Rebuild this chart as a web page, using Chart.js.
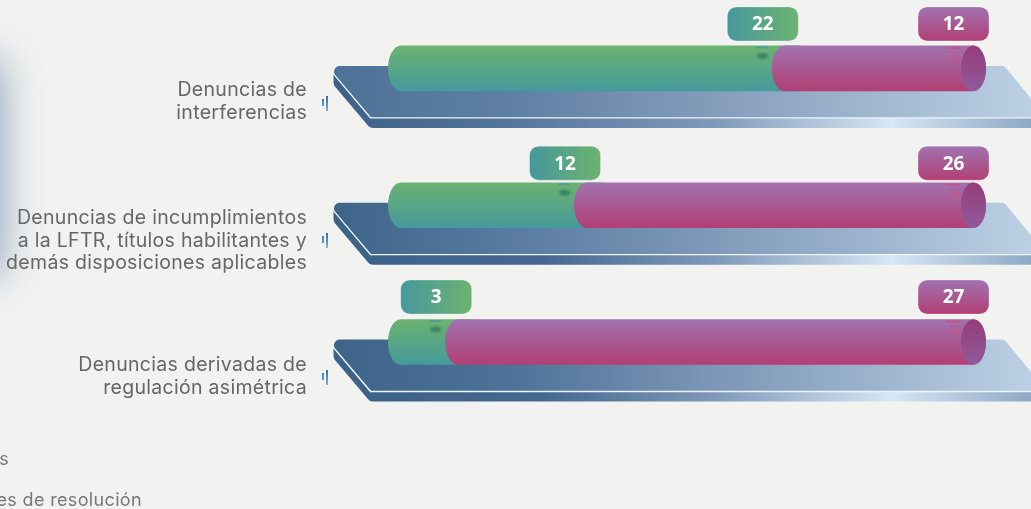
<!DOCTYPE html>
<html>
<head>
<meta charset="utf-8">
<script src="https://cdn.jsdelivr.net/npm/chart.js@4"></script>
<style>
    html, body { margin: 0; padding: 0; background: #f2f2f0; overflow: hidden; }
    #wrap { position: relative; width: 1031px; height: 509px; }
    .cut { position: absolute; font: 18px Inter, sans-serif; letter-spacing: 0.35px; color: #777; white-space: nowrap; text-align: right; }
</style>
</head>
<body>
<div id="wrap">
    <canvas id="chart" width="1031" height="509"></canvas>
    <div class="cut" style="right:1022px;top:448px">s</div>
    <div class="cut" style="right:889px;top:489px">es de resolución</div>
</div>
<script>
const categories = [
    ['Denuncias de', 'interferencias'],
    ['Denuncias de incumplimientos', 'a la LFTR, títulos habilitantes y', 'demás disposiciones aplicables'],
    ['Denuncias derivadas de', 'regulación asimétrica']
];
const greenValues = [22, 12, 3];
const pinkValues = [12, 26, 27];

const labelShift = [33.5, 35.5, 34.5];
const pillShift = [61.5, 59, 62];

function share(values, others) {
    return values.map((v, i) => (v / (v + others[i])) * 100);
}

// left edge of the top face comes from the axis, the rest is relative
function drawPlatform(ctx, chart, y, i) {
    const left = chart.chartArea.left - 52;
    const w = chart.width;
    const top = y - 2.5;
    const dark = i > 0;

    const side = ctx.createLinearGradient(left, 0, 1031, 0);
    side.addColorStop(0, '#3c6288');
    side.addColorStop(dark ? 0.3 : 0.2, dark ? '#44688e' : '#4d7096');
    side.addColorStop(0.55, '#7f9aba');
    side.addColorStop(0.8, '#d6e7f5');
    side.addColorStop(1, '#8ea8c5');
    ctx.beginPath();
    ctx.moveTo(left, top + 8);
    ctx.lineTo(left + 37, top + 52);
    ctx.lineTo(w + 20, top + 52);
    ctx.lineTo(w + 20, top + 62);
    ctx.lineTo(left + 39, top + 62);
    ctx.quadraticCurveTo(left + 36, top + 62, left + 34, top + 59);
    ctx.lineTo(left + 1, top + 20);
    ctx.quadraticCurveTo(left, top + 18, left, top + 15);
    ctx.closePath();
    ctx.fillStyle = side;
    ctx.fill();

    const face = ctx.createLinearGradient(left, 0, 1031, 0);
    face.addColorStop(0, ['#4d7297', '#3e648a', '#3e648a'][i]);
    face.addColorStop(0.25, ['#5e7fa3', '#587ba0', '#4d7198'][i]);
    face.addColorStop(0.5, ['#7f98b7', '#7a95b5', '#7591b2'][i]);
    face.addColorStop(1, '#bbd0e4');
    ctx.beginPath();
    ctx.moveTo(left + 5, top);
    ctx.lineTo(w - 29, top);
    ctx.quadraticCurveTo(w - 27, top, w - 25, top + 2);
    ctx.lineTo(w + 16, top + 52);
    ctx.lineTo(left + 38, top + 52);
    ctx.lineTo(left + 1, top + 9);
    ctx.quadraticCurveTo(left - 1, top + 2, left + 5, top);
    ctx.closePath();
    ctx.fillStyle = face;
    ctx.fill();

    ctx.beginPath();
    ctx.moveTo(left, top + 8);
    ctx.lineTo(left + 37, top + 52);
    ctx.lineTo(w + 20, top + 52);
    ctx.strokeStyle = '#eef4f9';
    ctx.lineWidth = 1.3;
    ctx.stroke();
}

function cylinderPath(ctx, x0, x1, y, h, rx) {
    const ry = h / 2;
    ctx.beginPath();
    ctx.moveTo(x0 + rx, y - ry);
    ctx.lineTo(x1 - rx, y - ry);
    ctx.ellipse(x1 - rx, y, rx, ry, 0, -Math.PI / 2, Math.PI / 2);
    ctx.lineTo(x0 + rx, y + ry);
    ctx.ellipse(x0 + rx, y, rx, ry, 0, Math.PI / 2, Math.PI * 1.5);
    ctx.closePath();
}

function drawPill(ctx, cx, top, text, colors, vertical) {
    const w = 71, h = 34;
    const g = vertical
        ? ctx.createLinearGradient(0, top, 0, top + h)
        : ctx.createLinearGradient(cx - w / 2, 0, cx + w / 2, 0);
    g.addColorStop(0, colors[0]);
    g.addColorStop(1, colors[1]);
    ctx.save();
    ctx.letterSpacing = '0px';
    ctx.beginPath();
    ctx.roundRect(cx - w / 2, top, w, h, 9);
    ctx.fillStyle = g;
    ctx.fill();
    ctx.strokeStyle = 'rgba(255,255,255,0.3)';
    ctx.lineWidth = 1;
    ctx.stroke();
    ctx.fillStyle = '#fff';
    ctx.font = 'bold 19px "Open Sans"';
    ctx.textAlign = 'center';
    ctx.textBaseline = 'middle';
    ctx.fillText(text, cx, top + h / 2 + 1);
    ctx.restore();
}

function blot(ctx, x, y, rx, ry, color, blur) {
    ctx.save();
    ctx.filter = 'blur(' + blur + 'px)';
    ctx.fillStyle = color;
    ctx.beginPath();
    ctx.ellipse(x, y, rx, ry, 0, 0, Math.PI * 2);
    ctx.fill();
    ctx.restore();
}

const cylinderPlugin = {
    id: 'cylinders',
    beforeDraw(chart) {
        const ctx = chart.ctx;
        // soft blue glow cut by the left border
        ctx.save();
        ctx.filter = 'blur(20px)';
        ctx.fillStyle = '#8fa5bf';
        ctx.fillRect(-60, 60, 62, 215);
        ctx.restore();
        ctx.letterSpacing = '0.3px';
    },
    afterDatasetsDraw(chart) {
        const ctx = chart.ctx;
        const greens = chart.getDatasetMeta(0).data;
        const pinks = chart.getDatasetMeta(1).data;
        const rx = 13;

        greens.forEach((bar, i) => {
            const pink = pinks[i];
            const y = bar.y;
            const h = bar.height;
            drawPlatform(ctx, chart, y, i);

            // ticks next to the label
            const tickG = ctx.createLinearGradient(0, y + 27, 0, y + 43);
            tickG.addColorStop(0, '#2a6a9a');
            tickG.addColorStop(1, '#7fb5da');
            ctx.fillStyle = tickG;
            ctx.fillRect(322, Math.round(y + 31), 2, 7);
            ctx.fillRect(326, Math.round(y + 28), 2, 15);

            const greenG = ctx.createLinearGradient(0, y - h / 2, 0, y + h / 2);
            greenG.addColorStop(0, '#6cb26f');
            greenG.addColorStop(1, '#459a9c');
            cylinderPath(ctx, bar.base + 2.5, bar.x + 40, y, h, rx);
            ctx.fillStyle = greenG;
            ctx.fill();

            const pinkG = ctx.createLinearGradient(0, y - h / 2, 0, y + h / 2);
            pinkG.addColorStop(0, '#a172b0');
            pinkG.addColorStop(1, '#b23f74');
            cylinderPath(ctx, bar.x, pink.x + 3.5, y, h, rx);
            ctx.fillStyle = pinkG;
            ctx.fill();

            const capG = ctx.createLinearGradient(0, y - h / 2, 0, y + h / 2);
            capG.addColorStop(0, '#953c78');
            capG.addColorStop(1, '#8f5a9c');
            ctx.beginPath();
            ctx.ellipse(pink.x + 3.5 - rx + 0.5, y, 12.5, h / 2, 0, 0, Math.PI * 2);
            ctx.fillStyle = capG;
            ctx.fill();

            // leftovers of the leader marks under the pills
            blot(ctx, bar.x - 9.5, y - 12.5, 5.5, 3, '#3a8561', 1);
            ctx.fillStyle = 'rgba(70,150,165,0.8)';
            ctx.fillRect(bar.x - 15.5, y - 22, 11, 2);
            blot(ctx, pink.x - 29, y - 10.5, 5, 2, 'rgba(210,80,130,0.6)', 0.8);
            ctx.fillStyle = 'rgba(205,75,125,0.7)';
            ctx.fillRect(pink.x - 36, y - 21.5, 14, 2);
            ctx.fillStyle = 'rgba(205,75,125,0.45)';
            ctx.fillRect(pink.x - 33, y - 17, 7, 1.5);

            const pillTop = y - pillShift[i];
            drawPill(ctx, bar.x - 9, pillTop, String(greenValues[i]), ['#47989c', '#6cb26f'], false);
            drawPill(ctx, pink.x - 29, pillTop, String(pinkValues[i]), ['#a172b0', '#b23f74'], true);
        });
    }
};

new Chart(document.getElementById('chart').getContext('2d'), {
    type: 'bar',
    data: {
        labels: categories,
        datasets: [
            { label: 'Green', data: share(greenValues, pinkValues), backgroundColor: 'transparent' },
            { label: 'Pink', data: share(pinkValues, greenValues), backgroundColor: 'transparent' }
        ]
    },
    options: {
        indexAxis: 'y',
        responsive: false,
        animation: false,
        layout: { padding: { top: 0, right: 48.5, bottom: 98.6, left: 0 } },
        barPercentage: 0.336,
        categoryPercentage: 1,
        plugins: { legend: { display: false }, tooltip: { enabled: false } },
        scales: {
            x: { stacked: true, min: 0, max: 100, display: false },
            y: {
                stacked: true,
                grid: { display: false, drawTicks: false },
                border: { display: false },
                afterFit(scale) {
                    scale.width = 385.5;
                    scale.paddingTop = 0;
                    scale.paddingBottom = 0;
                },
                afterUpdate(scale) {
                    // labels sit lower than the bars, next to the platform
                    const pixelForTick = scale.getPixelForTick;
                    scale.getPixelForTick = i => pixelForTick.call(scale, i) + labelShift[i];
                },
                ticks: {
                    color: '#666',
                    padding: 78.5,
                    autoSkip: false,
                    font: { family: 'Inter', size: 19.5, lineHeight: 1.16 }
                }
            }
        }
    },
    plugins: [cylinderPlugin]
});
</script>
</body>
</html>
